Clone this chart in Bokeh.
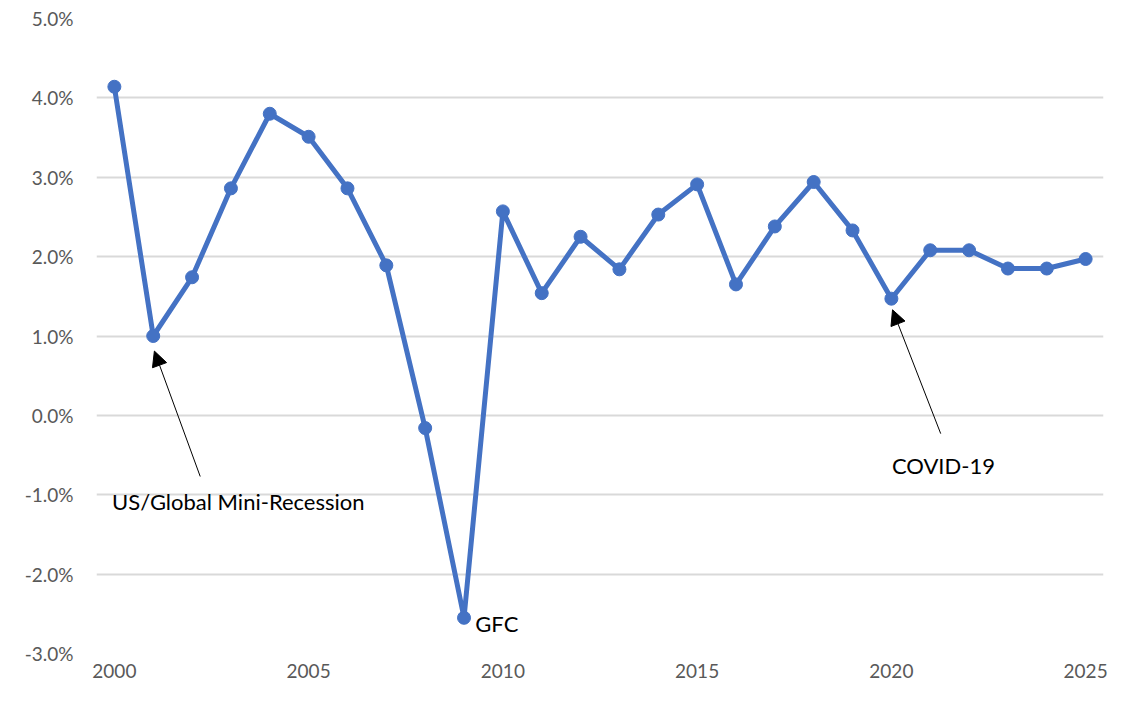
from bokeh.plotting import figure
from bokeh.models import Range1d, FixedTicker, Arrow, NormalHead, Label, CustomJSTickFormatter
from bokeh.embed import file_html
from bokeh.resources import INLINE

years = list(range(2000, 2026))
growth = [4.14, 1.00, 1.74, 2.86, 3.80, 3.51, 2.86, 1.89, -0.16, -2.55,
          2.57, 1.54, 2.25, 1.84, 2.53, 2.91, 1.65, 2.38, 2.94, 2.33,
          1.47, 2.08, 2.08, 1.85, 1.85, 1.97]
y_ticks = [-3, -2, -1, 0, 1, 2, 3, 4, 5]
x_ticks = [2000, 2005, 2010, 2015, 2020, 2025]

# annotations: (text, text_x, text_y, arrow_tail_x, arrow_tail_y, arrow_tip_x, arrow_tip_y)
ann_recession = ("US/Global Mini-Recession", 2003.19, -1.09, 2002.21, -0.77, 2001.03, 0.81)
ann_covid = ("COVID-19", 2021.34, -0.63, 2021.27, -0.23, 2020.03, 1.33)
ann_gfc = ("GFC", 2009.29, -2.62)

FONT = "Lato"
BLUE = "#4472C4"

p = figure(width=1108, height=686, output_backend="svg", toolbar_location=None,
           x_range=Range1d(1999.54, 2025.46), y_range=Range1d(-3, 5),
           min_border_left=96, min_border_right=5, min_border_top=18, min_border_bottom=33)
p.outline_line_color = None
p.background_fill_color = "white"

p.xgrid.visible = False
p.ygrid.ticker = FixedTicker(ticks=y_ticks)
p.ygrid.grid_line_color = "#D9D9D9"
p.ygrid.grid_line_width = 2

for ax in (p.xaxis[0], p.yaxis[0]):
    ax.axis_line_color = None
    ax.major_tick_line_color = None
    ax.minor_tick_line_color = None
    ax.major_tick_out = 0
    ax.major_tick_in = 0
    ax.minor_tick_out = 0
    ax.minor_tick_in = 0
    ax.major_label_text_font = FONT
    ax.major_label_text_font_size = "19px"
    ax.major_label_text_color = "#595959"

p.yaxis.ticker = FixedTicker(ticks=y_ticks)
p.yaxis.formatter = CustomJSTickFormatter(code="return tick.toFixed(1) + '%';")
p.yaxis.major_label_standoff = 23
p.xaxis.ticker = FixedTicker(ticks=x_ticks)
p.xaxis.major_label_standoff = 10

p.line(years, growth, line_color=BLUE, line_width=5, line_join="round")
p.scatter(years, growth, size=13, fill_color=BLUE, line_color=BLUE)

for t, tx, ty, ax0, ay0, ax1, ay1 in (ann_recession, ann_covid):
    p.add_layout(Arrow(x_start=ax0, y_start=ay0, x_end=ax1, y_end=ay1,
                       line_color="black", line_width=1,
                       end=NormalHead(size=15, fill_color="black", line_color="black")))
    p.add_layout(Label(x=tx, y=ty, text=t, text_align="center", text_baseline="middle",
                       text_font=FONT, text_font_size="22px", text_color="black"))

p.add_layout(Label(x=ann_gfc[1], y=ann_gfc[2], text=ann_gfc[0], text_align="left",
                   text_baseline="middle", text_font=FONT, text_font_size="22px",
                   text_color="black"))

open("out.html", "w").write(file_html(p, INLINE))
